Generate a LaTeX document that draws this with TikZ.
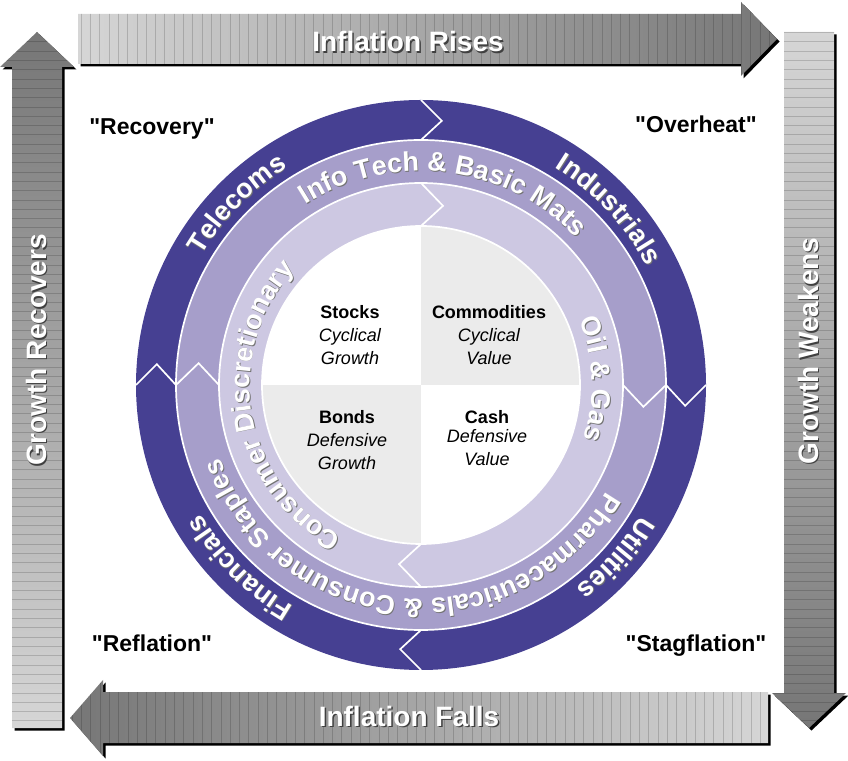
\documentclass[tikz,border=0pt]{standalone}
\usepackage{fontspec}
\setmainfont{Liberation Sans}[Ligatures=TeXOff]
\usetikzlibrary{decorations.text}

\definecolor{ringdark}{RGB}{70,64,146}
\definecolor{ringmid}{RGB}{166,158,202}
\definecolor{ringlight}{RGB}{205,200,226}
\definecolor{quadgrey}{RGB}{235,235,235}
\definecolor{arrowlight}{RGB}{214,214,214}
\definecolor{arrowdark}{RGB}{118,118,118}

\newcommand{\ringfont}{\bfseries\fontsize{27}{27}\selectfont}
% outlines of the four big arrows
\newcommand{\risesshape}{(78,696) -- (741,696) -- (741,684) -- (777,721) -- (741,758) -- (741,746) -- (78,746) -- cycle}
\newcommand{\weakensshape}{(784,728) -- (834,728) -- (834,67) -- (846,67) -- (809,32) -- (772,67) -- (784,67) -- cycle}
\newcommand{\fallsshape}{(768,17) -- (103,17) -- (103,4) -- (70,42) -- (103,80) -- (103,68) -- (768,68) -- cycle}
\newcommand{\recoversshape}{(12,32) -- (62,32) -- (62,693) -- (74,693) -- (37,728) -- (0,693) -- (12,693) -- cycle}

\tikzset{
  ringline/.style={white, line width=1.7pt},
  stripe/.style={black, opacity=0.16, line width=0.6pt},
  arrowtext/.style={text=white, font=\bfseries\fontsize{28}{28}\selectfont},
  arrowtextsh/.style={text=black!75, font=\bfseries\fontsize{28}{28}\selectfont},
  phase/.style={anchor=base, font=\bfseries\fontsize{23}{23}\selectfont},
  asset/.style={align=center, font=\fontsize{18}{23}\selectfont},
  ringtext/.style 2 args={decorate,
    decoration={text along path, text align=center, text={|\ringfont\color{#1}|#2}}}
}

\begin{document}
\begin{tikzpicture}[x=1pt, y=1pt]
\useasboundingbox (0,0) rectangle (848,760);
\coordinate (C) at (421,375);
\coordinate (Cs) at (421.8,374.2);

% arrows round the frame
\fill[black, shift={(2.5,-2.5)}] \risesshape;
\shade[left color=arrowlight, right color=arrowdark] \risesshape;
\begin{scope}
  \clip \risesshape;
  \foreach \x in {81,90.3,...,780} \draw[stripe] (\x,680) -- (\x,760);
\end{scope}

\fill[black, shift={(2.5,-2.5)}] \weakensshape;
\shade[top color=arrowlight, bottom color=arrowdark] \weakensshape;
\begin{scope}
  \clip \weakensshape;
  \foreach \y in {30,39.3,...,730} \draw[stripe] (770,\y) -- (848,\y);
\end{scope}

\fill[black, shift={(2.5,-2.5)}] \fallsshape;
\shade[left color=arrowdark, right color=arrowlight] \fallsshape;
\begin{scope}
  \clip \fallsshape;
  \foreach \x in {72,81.3,...,770} \draw[stripe] (\x,0) -- (\x,82);
\end{scope}

\fill[black, shift={(2.5,-2.5)}] \recoversshape;
\shade[top color=arrowdark, bottom color=arrowlight] \recoversshape;
\begin{scope}
  \clip \recoversshape;
  \foreach \y in {30,39.3,...,730} \draw[stripe] (0,\y) -- (76,\y);
\end{scope}

\node[arrowtextsh] (rises-sh) at (409.5,716.5) {Inflation Rises};
\node[arrowtext] (rises) at (408,718) {Inflation Rises};
\node[arrowtextsh] (falls-sh) at (410.5,42.5) {Inflation Falls};
\node[arrowtext] (falls) at (409,44) {Inflation Falls};
\node[arrowtextsh, rotate=90] (recovers-sh) at (37.5,408.5) {Growth Recovers};
\node[arrowtext, rotate=90] (recovers) at (36,410) {Growth Recovers};
\node[arrowtextsh, rotate=90] (weakens-sh) at (809.5,407.5) {Growth Weakens};
\node[arrowtext, rotate=90] (weakens) at (808,409) {Growth Weakens};

% the four phases
\node[phase] (recovery) at (152,625) {"Recovery"};
\node[phase] (overheat) at (696,627) {"Overheat"};
\node[phase] (reflation) at (152,108) {"Reflation"};
\node[phase] (stagflation) at (696,108) {"Stagflation"};

% rings
\fill[ringdark] (C) circle[radius=285pt];
\fill[ringmid] (C) circle[radius=245pt];
\fill[ringlight] (C) circle[radius=202pt];
\begin{scope}
  \clip (C) circle[radius=159pt];
  \fill[white] (C) rectangle ++(-160,160);
  \fill[quadgrey] (C) rectangle ++(160,160);
  \fill[quadgrey] (C) rectangle ++(-160,-160);
  \fill[white] (C) rectangle ++(160,-160);
\end{scope}
\foreach \r in {245,202,159} \draw[ringline] (C) circle[radius=\r pt];

% chevrons between the sectors
\foreach \a/\ro/\ri/\d in {90/285/245/4.5, 0/285/245/4.5, -90/285/245/4.5, 180/285/245/4.5,
                            180/245/202/5.6, 0/245/202/5.6, 90/202/159/7, -90/202/159/7}
  \draw[ringline] ([shift={(\a:\ro)}]C) -- ([shift={(\a-\d:{(\ro+\ri)/2})}]C) -- ([shift={(\a:\ri)}]C);

% sector names, shadow first
\foreach \c/\col in {Cs/black!55, C/white} {
  \path[ringtext={\col}{Telecoms}] ([shift={(225.5:255pt)}]\c) arc[start angle=225.5, end angle=45.5, radius=255pt];
  \path[ringtext={\col}{Industrials}] ([shift={(133:255pt)}]\c) arc[start angle=133, end angle=-47, radius=255pt];
  \path[ringtext={\col}{Utilities}] ([shift={(48.4:255pt)}]\c) arc[start angle=48.4, end angle=-131.6, radius=255pt];
  \path[ringtext={\col}{Financials}] ([shift={(-44.8:255pt)}]\c) arc[start angle=-44.8, end angle=-224.8, radius=255pt];
  \path[ringtext={\col}{Info Tech {\&} Basic Mats}] ([shift={(173:214pt)}]\c) arc[start angle=173, end angle=-7, radius=214pt];
  \path[ringtext={\col}{Pharmaceuticals {\&} Consumer Staples}] ([shift={(-5:214pt)}]\c) arc[start angle=-5, end angle=-185, radius=214pt];
  \path[ringtext={\col}{Oil {\&} Gas}] ([shift={(92:171pt)}]\c) arc[start angle=92, end angle=-88, radius=171pt];
  \path[ringtext={\col}{Consumer Discretionary}] ([shift={(280:171pt)}]\c) arc[start angle=280, end angle=100, radius=171pt];
}

% asset classes
\node[asset] (stocks) at (350,425) {\textbf{Stocks}\\\textit{Cyclical}\\\textit{Growth}};
\node[asset] (commodities) at (489,425) {\textbf{Commodities}\\\textit{Cyclical}\\\textit{Value}};
\node[asset] (bonds) at (347,320) {\textbf{Bonds}\\\textit{Defensive}\\\textit{Growth}};
\node[asset] (cash) at (487,322) {\textbf{Cash}\\[-4pt]\textit{Defensive}\\\textit{Value}};
\end{tikzpicture}
\end{document}
